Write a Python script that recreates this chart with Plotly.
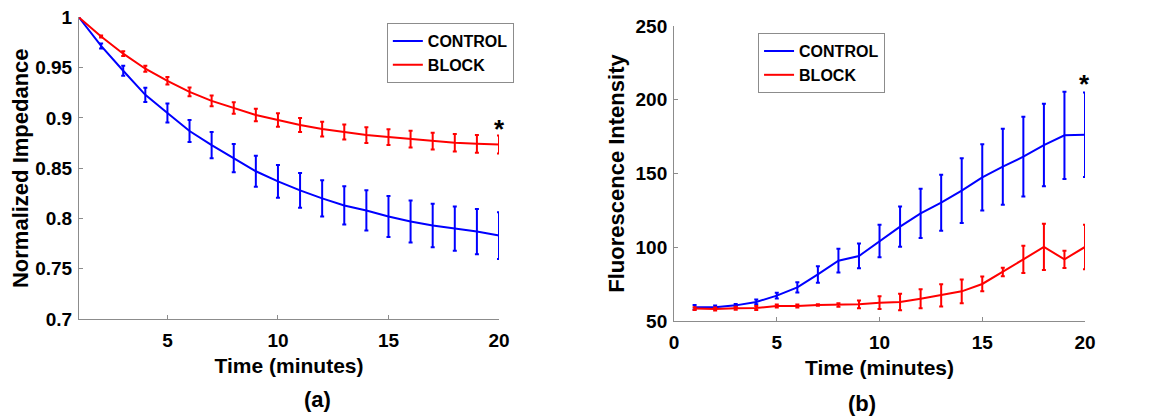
import plotly.graph_objects as go

# ---- data ----
time_min = list(range(1, 21))

imp_control = [1.0, 0.9717, 0.947, 0.923, 0.905, 0.887, 0.873, 0.860, 0.847, 0.837,
               0.828, 0.820, 0.813, 0.808, 0.802, 0.797, 0.793, 0.790, 0.787, 0.783]
imp_control_err = [0.0, 0.0025, 0.005, 0.007, 0.0095, 0.011, 0.013, 0.014, 0.0155, 0.0163,
                   0.0173, 0.018, 0.019, 0.020, 0.0205, 0.021, 0.0217, 0.022, 0.0225, 0.0233]
imp_block = [1.0, 0.981, 0.964, 0.949, 0.937, 0.926, 0.917, 0.910, 0.903, 0.898,
             0.893, 0.889, 0.886, 0.883, 0.881, 0.879, 0.877, 0.8753, 0.8743, 0.8737]
imp_block_err = [0.0, 0.001, 0.0023, 0.003, 0.0037, 0.0043, 0.0053, 0.0057, 0.0063, 0.0067,
                 0.007, 0.0073, 0.0075, 0.0078, 0.0078, 0.0083, 0.0083, 0.0087, 0.0088, 0.009]

fl_control = [59.3, 59.3, 60.6, 62.9, 67.2, 72.8, 81.6, 90.9, 94.1, 104.2,
              114.0, 123.0, 130.2, 138.4, 147.4, 154.6, 161.4, 169.3, 175.9, 176.3]
fl_control_err = [1.5, 1.2, 1.0, 1.6, 2.0, 3.5, 5.6, 8.0, 8.4, 11.0,
                  13.7, 16.7, 19.0, 22.0, 22.5, 25.8, 27.0, 28.0, 29.6, 28.6]
fl_block = [58.4, 58.1, 58.6, 58.8, 60.2, 60.2, 60.8, 60.8, 61.3, 62.4,
            62.9, 65.1, 67.4, 70.1, 75.1, 83.2, 91.8, 100.2, 91.8, 100.2]
fl_block_err = [1.0, 1.0, 1.0, 1.3, 1.0, 1.0, 0.5, 1.2, 2.6, 4.3,
                5.6, 6.5, 7.6, 8.0, 5.0, 2.9, 9.3, 15.7, 5.9, 15.1]

left_yticks = [0.7, 0.75, 0.8, 0.85, 0.9, 0.95, 1.0]
left_yticktext = ["0.7", "0.75", "0.8", "0.85", "0.9", "0.95", "1"]
left_xticks = [5, 10, 15, 20]
right_xticks = [0, 5, 10, 15, 20]
right_yticks = [50, 100, 150, 200, 250]

series_names = ["CONTROL", "BLOCK"]
BLUE = "#0000FF"
RED = "#FF0000"
FONT = "Liberation Sans, Arial, Helvetica, sans-serif"

fig = go.Figure()


def add(x, y, err, color, name, xa, ya, legend):
    fig.add_trace(go.Scatter(
        x=x, y=y, mode="lines", name=name,
        line=dict(color=color, width=2),
        error_y=dict(type="data", array=err, color=color, thickness=2, width=2),
        xaxis=xa, yaxis=ya, legend=legend,
    ))


add(time_min, imp_control, imp_control_err, BLUE, series_names[0], "x", "y", "legend")
add(time_min, imp_block, imp_block_err, RED, series_names[1], "x", "y", "legend")
add(time_min, fl_control, fl_control_err, BLUE, series_names[0], "x2", "y2", "legend2")
add(time_min, fl_block, fl_block_err, RED, series_names[1], "x2", "y2", "legend2")

tickfont = dict(family=FONT, size=19, color="black", weight="bold")
xtitlefont = dict(family=FONT, size=21, color="black", weight="bold")
ytitlefont = dict(family=FONT, size=22, color="black", weight="bold")
legfont = dict(family=FONT, size=16, color="black", weight="bold")
axcommon = dict(showline=True, linecolor="#8c8c8c", linewidth=1, ticks="inside",
                ticklen=4, tickcolor="#8c8c8c", showgrid=False, zeroline=False,
                tickfont=tickfont, mirror=False, automargin=False,
                ticklabeloverflow="allow")

# page has an 8px body margin; plot area in window pixels: x 79..1085, y 17..321
fig.update_layout(
    width=1152, height=420,
    margin=dict(l=71, r=75, t=9, b=107),
    paper_bgcolor="white", plot_bgcolor="white",
    font=dict(family=FONT, color="black"),
    xaxis=dict(domain=[0.0, 0.4175], range=[1, 20], tickvals=left_xticks,
               anchor="y", ticklabelstandoff=4,
               title=dict(text="Time (minutes)", font=xtitlefont, standoff=8), **axcommon),
    yaxis=dict(domain=[0.0066, 0.9984], range=[0.7, 1.0], tickvals=left_yticks,
               ticktext=left_yticktext, anchor="x", ticklabelstandoff=2,
               title=dict(text="Normalized Impedance", font=ytitlefont, standoff=5), **axcommon),
    xaxis2=dict(domain=[0.5915, 1.0], range=[0, 20], tickvals=right_xticks,
                anchor="y2", ticklabelstandoff=4,
                title=dict(text="Time (minutes)", font=xtitlefont, standoff=8), **axcommon),
    yaxis2=dict(domain=[0.0, 0.9704], range=[50, 250], tickvals=right_yticks,
                anchor="x2", ticklabelstandoff=2,
                title=dict(text="Fluorescence Intensity", font=ytitlefont, standoff=4), **axcommon),
    legend=dict(x=0.306, y=0.980, xanchor="left", yanchor="top",
                bgcolor="white", bordercolor="#8c8c8c", borderwidth=1,
                font=legfont, itemwidth=30, tracegroupgap=0),
    legend2=dict(x=0.675, y=0.947, xanchor="left", yanchor="top",
                 bgcolor="white", bordercolor="#8c8c8c", borderwidth=1,
                 font=legfont, itemwidth=30, tracegroupgap=0),
    annotations=[
        dict(x=20, y=0.889, xref="x", yref="y", text="*", showarrow=False,
             font=dict(family=FONT, size=26, color="black", weight="bold")),
        dict(x=20, y=211, xref="x2", yref="y2", text="*", showarrow=False,
             font=dict(family=FONT, size=26, color="black", weight="bold")),
        dict(x=0.2217, y=-0.305, xref="paper", yref="paper", text="(a)",
             showarrow=False, font=dict(family=FONT, size=22, color="black", weight="bold")),
        dict(x=0.794, y=-0.32, xref="paper", yref="paper", text="(b)",
             showarrow=False, font=dict(family=FONT, size=22, color="black", weight="bold")),
    ],
)

fig.write_html("out.html")
